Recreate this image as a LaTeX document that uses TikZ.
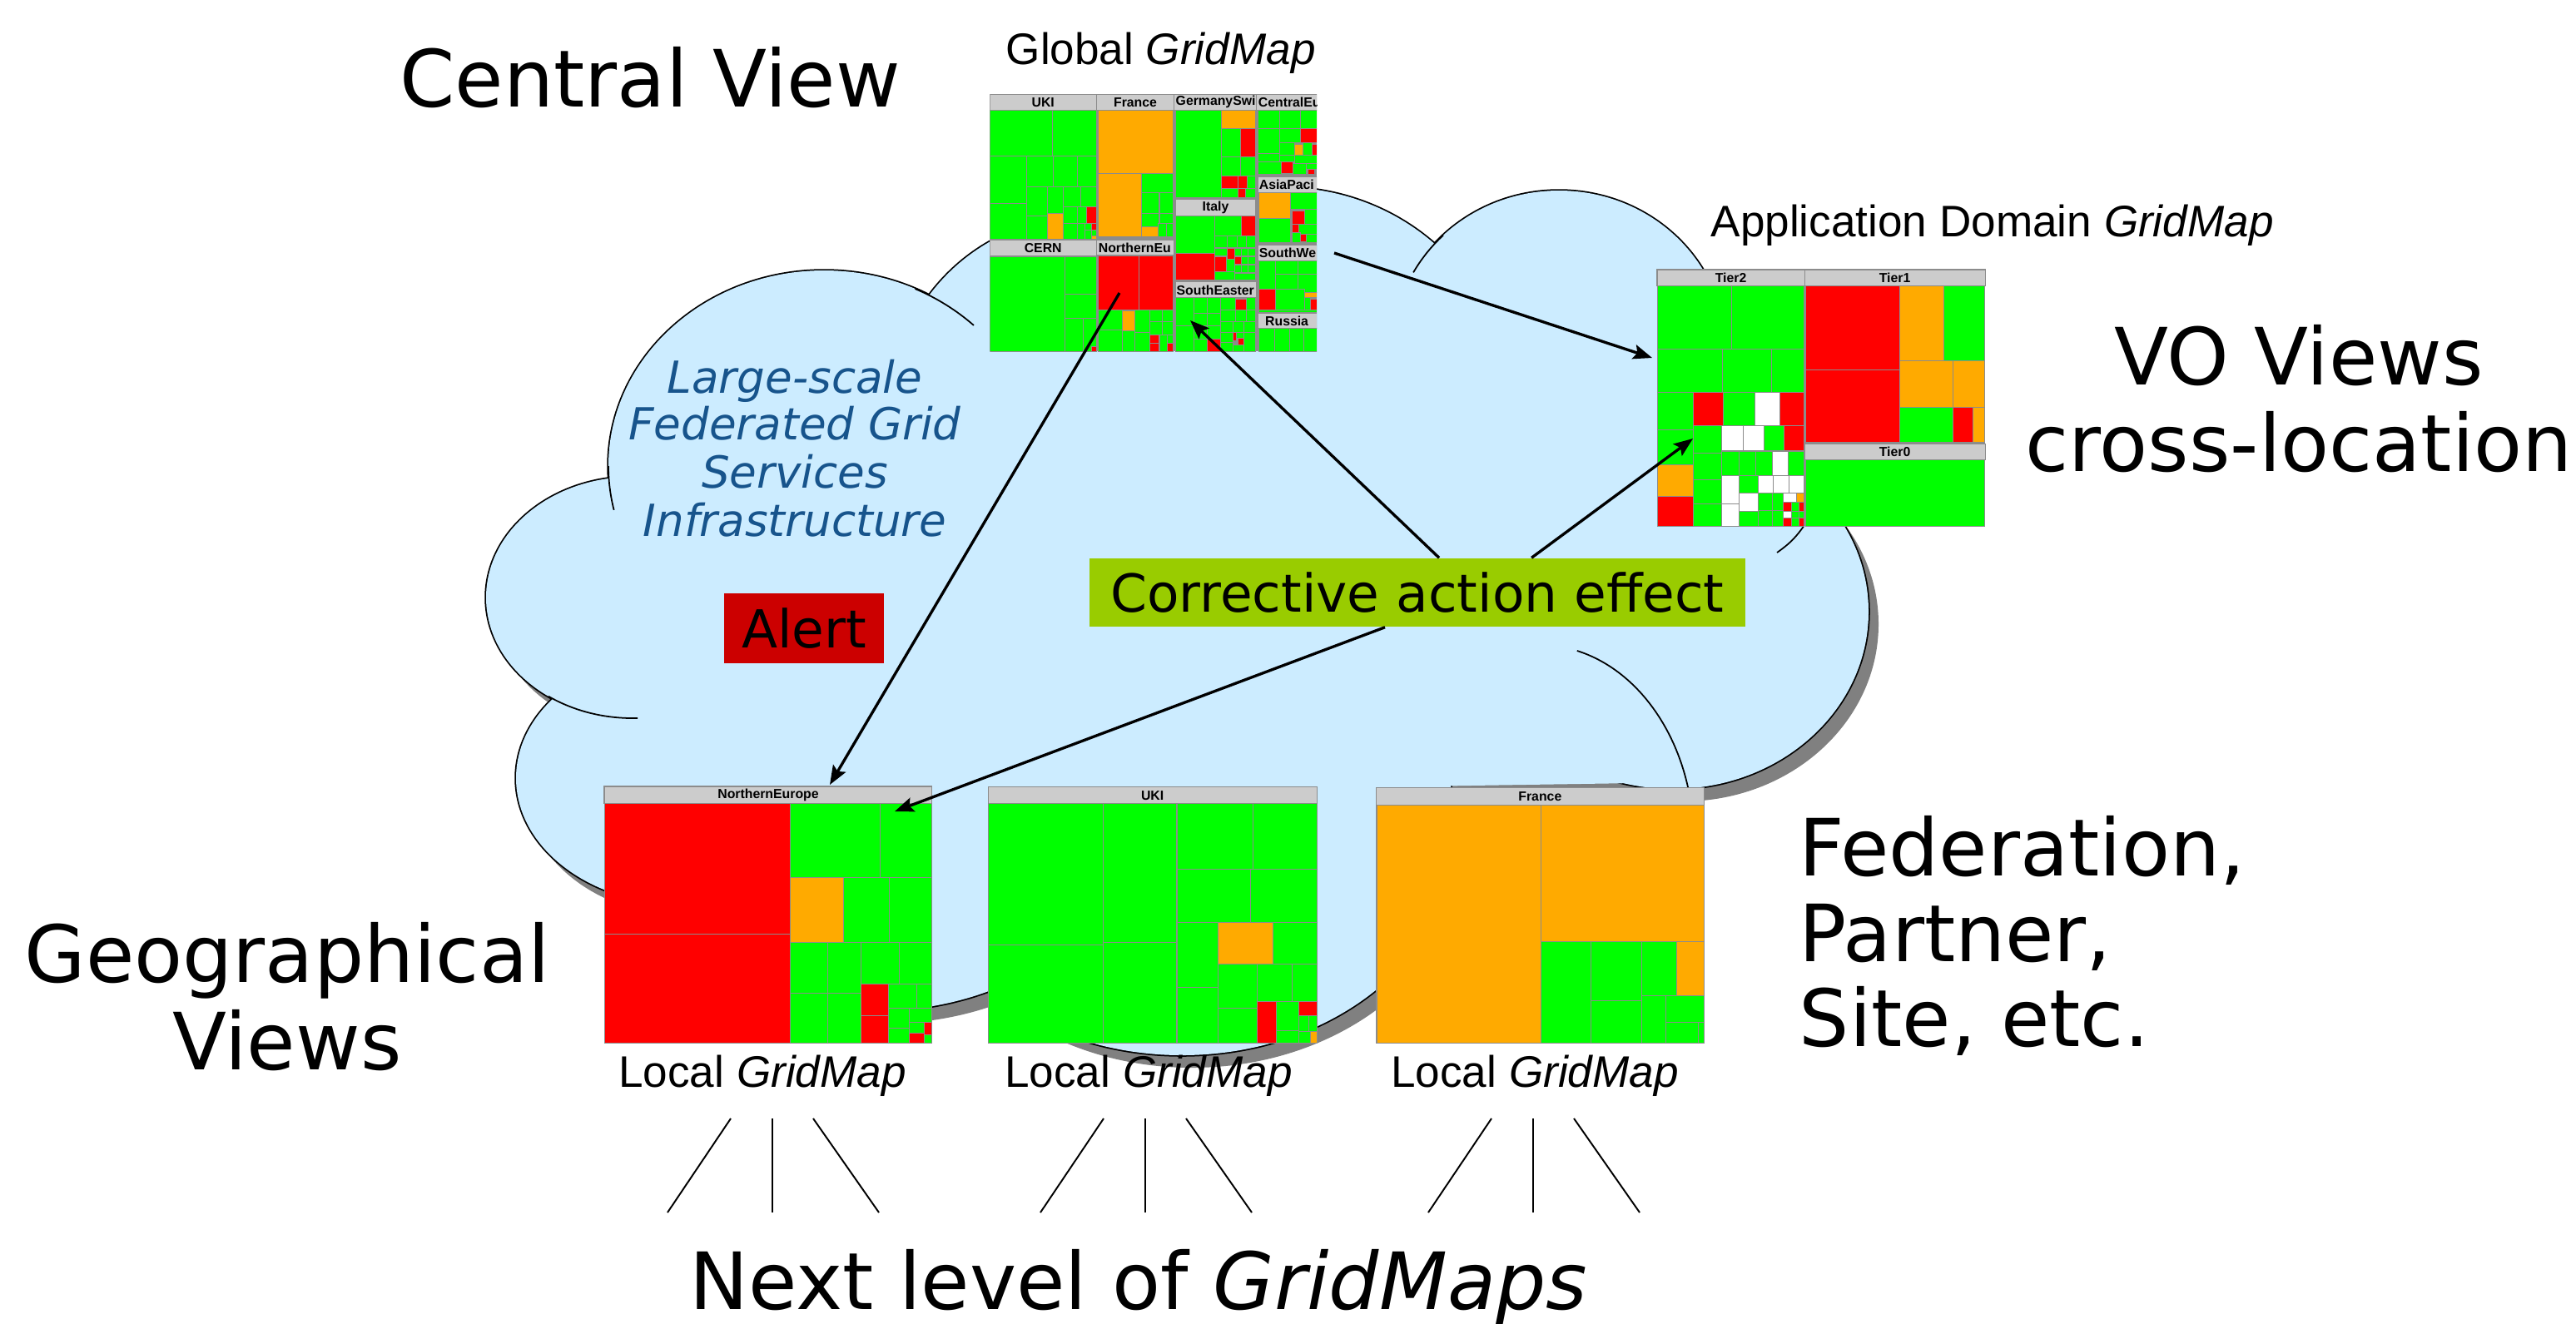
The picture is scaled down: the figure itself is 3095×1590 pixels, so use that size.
\documentclass[tikz,border=0pt]{standalone}
\usepackage{fontspec}
\setmainfont{DejaVu Sans}
\newfontfamily\arialfont{Liberation Sans}
\usetikzlibrary{arrows.meta}
\usetikzlibrary{positioning}
\definecolor{CloudBlue}{HTML}{CCECFF}
\definecolor{CloudShade}{HTML}{808080}
\definecolor{TextBlue}{HTML}{17548C}
\definecolor{AlertRed}{HTML}{CC0000}
\definecolor{EffectGreen}{HTML}{99CC00}
\definecolor{MapHead}{HTML}{CCCCCC}
\definecolor{MapLine}{HTML}{8C8C8C}
\definecolor{mG}{HTML}{00FF00}
\definecolor{mR}{HTML}{FF0000}
\definecolor{mO}{HTML}{FFAA00}
\definecolor{mW}{HTML}{FFFFFF}
\tikzset{
  cell/.style={draw=MapLine, line width=0.3pt},
  mhead/.style={fill=MapHead, draw=MapLine, line width=0.3pt},
  mlabel/.style={font=\arialfont\bfseries\fontsize{4.5}{5}\selectfont, inner sep=0pt},
  link/.style={-{Stealth[length=6.5pt,width=5pt,inset=1.2pt]}, line width=0.95pt},
  hook/.style={line width=0.5pt},
  fan/.style={line width=0.55pt},
  bigtext/.style={font=\fontsize{27}{32}\selectfont, inner sep=0pt},
  captext/.style={font=\arialfont\fontsize{15.1}{18}\selectfont, inner sep=0pt},
  cloudtext/.style={font=\itshape\fontsize{15.1}{16.2}\selectfont, text=TextBlue, inner sep=0pt}
}
% bumps of the cloud: cx/cy/rx/ry
\newcommand\cloudbumps{990/560/259/235, 760/718/176/145, 820/935/200/152,
  1050/1000/300/215, 1420/1000/330/268, 2010/735/235/213,
  1873/420/200/191, 1540/480/270/255, 1305/495/235/235}

\begin{document}
\begin{tikzpicture}[x=0.01cm, y=-0.01cm]
  \useasboundingbox (0,0) rectangle (3095,1590);

  % cloud: shadow, outline, fill
  \begin{scope}[shift={(12,15)}]
    \foreach \cx/\cy/\rx/\ry in \cloudbumps
      \fill[CloudShade] (\cx,\cy) ellipse [x radius=\rx, y radius=\ry];
    \fill[CloudShade] (760,600) -- (1100,400) -- (1550,330) -- (1870,330) -- (2100,520)
      -- (2150,750) -- (2030,940) -- (1700,945) -- (1650,1000) -- (1200,1000) -- (800,950) -- cycle;
  \end{scope}
  \foreach \cx/\cy/\rx/\ry in \cloudbumps
    \draw[line width=1pt] (\cx,\cy) ellipse [x radius=\rx, y radius=\ry];
  \foreach \cx/\cy/\rx/\ry in \cloudbumps
    \fill[CloudBlue] (\cx,\cy) ellipse [x radius=\rx, y radius=\ry];
  \fill[CloudBlue] (760,600) -- (1100,400) -- (1550,330) -- (1870,330) -- (2100,520)
    -- (2150,750) -- (2030,940) -- (1700,945) -- (1650,1000) -- (1200,1000) -- (800,950) -- cycle;

  % inner arcs of the cloud
  \draw[hook] (990,560) ++(167:259 and 235) arc[start angle=167, end angle=180, x radius=259, y radius=235];
  \draw[hook] (990,560) ++(295:259 and 235) arc[start angle=295, end angle=314, x radius=259, y radius=235];
  \draw[hook] (760,718) ++(125:176 and 145) arc[start angle=125, end angle=88, x radius=176, y radius=145];
  \draw[hook] (1873,420) ++(209:200 and 191) arc[start angle=209, end angle=226, x radius=200, y radius=191];
  \draw[hook] (1850,1010) ++(284:185 and 235) arc[start angle=284, end angle=350, x radius=185, y radius=235];
  \draw[hook] (2168,631) to[bend left=10] (2135,664);

  % texts inside the cloud
  \node[cloudtext, anchor=base] (infra1) at (955,472) {Large-scale};
  \node[cloudtext, anchor=base] (infra2) at (955,528) {Federated Grid};
  \node[cloudtext, anchor=base] (infra3) at (955,586) {Services};
  \node[cloudtext, anchor=base] (infra4) at (955,644) {Infrastructure};
  \node[fill=AlertRed, minimum width=1.91cm, minimum height=0.83cm, inner sep=0pt,
    font=\fontsize{17.9}{20}\selectfont] (alert) at (966,755) {Alert};
  \node[fill=EffectGreen, minimum width=7.87cm, minimum height=0.82cm, inner sep=0pt,
    font=\fontsize{17.9}{20}\selectfont] (effect) at (1703,712) {Corrective action effect};

  % global gridmap
  \begin{scope}[shift={(1180,100)}, x=0.0033333cm, y=-0.0033333cm]
    \clip (28,40) rectangle (1208,968);
    \fill[MapLine] (28,40) rectangle (1208,968);
    \foreach \xa/\ya/\xb/\yb/\col in {
      28/97/255/262/mG, 255/97/413/262/mG, 28/262/162/435/mG, 28/435/162/562/mG,
      162/262/258/375/mG, 258/262/343/375/mG, 343/262/413/375/mG, 162/375/235/478/mG,
      162/478/235/562/mG, 235/375/293/470/mG, 235/470/293/562/mO, 293/375/355/447/mG,
      355/375/413/447/mG, 293/447/345/505/mG, 293/505/345/562/mG, 345/447/378/505/mG,
      378/447/413/505/mR, 345/505/370/562/mG, 370/505/395/530/mG, 395/505/413/530/mR,
      370/530/395/562/mG, 395/530/413/550/mG, 395/550/413/562/mO,
      28/625/300/968/mG, 300/625/413/762/mG, 300/762/413/848/mG, 300/848/365/968/mG,
      365/848/413/968/mG, 395/950/413/968/mR,
      418/97/690/325/mO, 418/325/575/555/mO, 575/325/690/395/mG, 575/395/640/470/mG,
      640/395/690/470/mG, 575/470/640/518/mG, 640/470/690/505/mG, 575/518/635/555/mO,
      635/505/665/555/mG, 665/505/690/555/mG,
      418/622/565/818/mR, 565/622/690/818/mR, 418/818/505/890/mG, 505/822/550/895/mO,
      550/818/605/900/mG, 605/818/650/860/mG, 650/818/690/860/mG, 605/860/650/910/mG,
      650/860/690/910/mG, 418/890/505/968/mG, 505/895/550/968/mG, 550/900/605/968/mG,
      605/910/640/940/mR, 605/940/640/968/mR, 640/910/668/968/mG, 668/910/690/940/mG,
      668/940/690/968/mR,
      698/97/865/412/mG, 865/97/988/165/mO, 865/165/932/265/mG, 932/165/988/265/mR,
      865/265/932/335/mG, 932/265/988/335/mG, 865/335/925/380/mR, 925/335/958/380/mR,
      958/335/988/380/mG, 865/380/925/412/mG, 925/380/950/412/mR, 950/380/988/412/mG,
      698/478/840/615/mG, 840/478/935/552/mG, 935/478/988/552/mR, 698/615/840/712/mR,
      840/552/885/595/mG, 885/552/920/595/mG, 920/552/955/595/mG, 955/552/988/595/mG,
      840/595/885/625/mG, 885/595/912/635/mR, 912/595/935/625/mG, 935/595/960/625/mG,
      960/595/988/625/mG, 840/625/882/680/mR, 882/635/912/680/mG, 912/625/935/655/mR,
      935/625/960/655/mG, 960/625/988/655/mG, 912/655/935/685/mG, 935/655/960/685/mG,
      960/655/988/685/mG, 840/680/912/712/mG, 912/685/988/712/mG,
      698/775/765/875/mG, 765/775/812/830/mG, 812/775/862/830/mG, 862/775/915/818/mG,
      915/780/955/818/mR, 955/775/988/818/mG, 765/830/812/875/mG, 812/830/862/875/mG,
      862/818/915/860/mG, 915/818/955/860/mG, 955/818/988/860/mG, 698/875/765/968/mG,
      765/875/812/925/mG, 812/875/862/925/mG, 862/860/905/900/mG, 905/860/945/900/mG,
      945/860/988/900/mG, 862/900/905/935/mG, 905/900/918/930/mR, 918/900/945/920/mG,
      925/920/945/945/mR, 945/900/988/968/mG, 765/925/812/968/mG, 812/925/862/968/mR,
      862/935/905/968/mG, 905/945/945/968/mG,
      995/97/1075/165/mG, 1075/97/1150/165/mG, 1150/97/1208/165/mG, 995/165/1075/255/mG,
      1075/165/1150/215/mG, 1150/165/1208/215/mR, 1075/215/1128/260/mG, 1128/220/1158/260/mO,
      1158/215/1190/260/mG, 1190/220/1208/260/mR, 995/255/1075/285/mG, 1075/260/1128/285/mG,
      1128/260/1208/290/mG, 995/285/1080/328/mG, 1080/285/1122/325/mR, 1122/290/1170/328/mG,
      1170/290/1208/310/mG, 1175/310/1200/328/mR,
      998/395/1112/488/mO, 1112/395/1208/455/mG, 998/488/1112/575/mG, 1118/460/1165/508/mR,
      1165/455/1208/508/mG, 1118/508/1142/540/mR, 1142/508/1208/545/mG, 1118/540/1148/575/mG,
      1148/545/1170/572/mR, 1170/545/1208/575/mG,
      998/642/1060/745/mG, 1060/642/1140/690/mG, 1140/642/1208/690/mG, 1060/690/1140/745/mG,
      1140/690/1208/755/mG, 998/745/1060/818/mR, 1060/745/1165/818/mG, 1165/755/1208/775/mO,
      1165/775/1185/818/mG, 1185/780/1208/818/mR, 998/818/1208/828/mG,
      998/885/1055/968/mG, 1055/885/1110/968/mG, 1110/885/1160/968/mG, 1160/885/1208/968/mG}
      \filldraw[cell, fill=\col] (\xa,\ya) rectangle (\xb,\yb);
    \foreach \xa/\ya/\xb/\yb/\lx/\anc/\lab in {
      28/40/413/97/220/center/UKI, 413/40/693/97/553/center/France,
      693/40/990/97/697/west/GermanySwi, 990/40/1208/97/995/west/CentralEu,
      995/338/1208/395/998/west/AsiaPaci, 698/420/988/478/843/center/Italy,
      28/565/413/625/220/center/CERN, 413/565/693/622/418/west/NorthernEu,
      995/585/1208/642/998/west/SouthWe, 698/718/990/775/700/west/SouthEaster,
      995/830/1208/885/1100/center/Russia}
    {
      \filldraw[mhead] (\xa,\ya) rectangle (\xb,\yb);
      \node[mlabel, anchor=\anc] (g-\lab) at (\lx,{(\ya+\yb)/2}) {\lab};
    }
  \end{scope}

  % application domain gridmap
  \begin{scope}[shift={(1980,310)}, x=0.0033333cm, y=-0.0033333cm]
    \fill[MapLine] (33,40) rectangle (1218,968);
    \foreach \xa/\ya/\xb/\yb/\col in {
      35/100/302/328/mG, 302/100/562/328/mG, 35/328/270/485/mG, 270/328/447/485/mG,
      447/328/562/485/mG, 35/485/163/620/mG, 163/485/272/605/mR, 272/485/385/605/mG,
      385/485/475/605/mW, 475/485/562/605/mR, 35/620/163/748/mG, 35/748/163/860/mO,
      35/860/163/968/mR, 163/605/265/705/mG, 265/605/345/697/mW, 345/605/418/697/mW,
      418/605/490/697/mG, 490/605/562/697/mR, 163/705/265/800/mG, 265/697/330/785/mG,
      330/697/390/785/mG, 390/697/448/785/mG, 448/697/505/785/mW, 505/697/562/785/mG,
      163/800/265/888/mG, 265/785/330/888/mW, 330/785/398/850/mG, 398/785/452/850/mW,
      452/785/508/850/mW, 508/785/562/850/mW, 163/888/265/968/mG, 265/888/330/968/mW,
      330/850/398/915/mW, 330/915/398/968/mG, 398/850/448/912/mG, 448/850/487/912/mG,
      398/912/448/968/mG, 448/912/487/968/mG, 487/850/535/882/mW, 535/850/562/882/mO,
      487/882/518/915/mR, 518/882/545/915/mG, 545/882/562/915/mR, 487/915/518/940/mW,
      518/915/545/940/mG, 545/915/562/940/mG, 487/940/518/968/mR, 518/940/545/968/mG,
      545/940/562/968/mR,
      568/100/908/405/mR, 568/405/908/665/mR, 908/100/1068/372/mO, 1068/100/1215/372/mG,
      908/372/1100/540/mO, 1100/372/1215/540/mO, 908/540/1100/665/mG, 1100/540/1172/665/mR,
      1172/540/1215/665/mO, 568/730/1215/968/mG}
      \filldraw[cell, fill=\col] (\xa,\ya) rectangle (\xb,\yb);
    \foreach \xa/\ya/\xb/\yb/\lx/\lab in {
      33/42/565/100/299/Tier2, 565/42/1218/100/891/Tier1, 565/672/1218/730/891/Tier0}
    {
      \filldraw[mhead] (\xa,\ya) rectangle (\xb,\yb);
      \node[mlabel] (a-\lab) at (\lx,{(\ya+\yb)/2}) {\lab};
    }
  \end{scope}

  % local gridmap NorthernEurope
  \begin{scope}[shift={(715,935)}, x=0.0033333cm, y=-0.0033333cm]
    \fill[MapLine] (33,30) rectangle (1216,958);
    \foreach \xa/\ya/\xb/\yb/\col in {
      35/92/705/562/mR, 35/562/705/958/mR, 705/92/1028/360/mG, 1028/92/1215/360/mG,
      705/360/898/592/mO, 898/360/1062/592/mG, 1062/360/1215/592/mG, 705/592/840/778/mG,
      840/592/960/778/mG, 960/592/1097/745/mG, 1097/592/1215/745/mG, 705/778/840/958/mG,
      840/778/960/958/mG, 960/745/1060/858/mR, 960/858/1060/958/mR, 1060/745/1162/832/mG,
      1162/745/1215/832/mG, 1060/832/1133/902/mG, 1133/832/1215/882/mG, 1060/902/1133/958/mG,
      1133/882/1187/920/mG, 1187/882/1215/928/mR, 1133/920/1187/958/mR, 1187/928/1215/958/mG}
      \filldraw[cell, fill=\col] (\xa,\ya) rectangle (\xb,\yb);
    \filldraw[mhead] (33,30) rectangle (1216,92);
    \node[mlabel] (l-NorthernEurope) at (625,61) {NorthernEurope};
  \end{scope}

  % local gridmap UKI
  \begin{scope}[shift={(1175,935)}, x=0.0033333cm, y=-0.0033333cm]
    \fill[MapLine] (37,32) rectangle (1225,958);
    \foreach \xa/\ya/\xb/\yb/\col in {
      38/92/452/602/mG, 38/602/452/958/mG, 452/92/718/592/mG, 452/592/718/958/mG,
      718/92/992/330/mG, 992/92/1225/330/mG, 718/330/985/522/mG, 985/330/1225/522/mG,
      718/522/867/755/mG, 867/522/1065/672/mO, 1065/522/1225/672/mG, 718/755/867/958/mG,
      867/672/1008/830/mG, 1008/672/1133/808/mG, 1133/672/1225/808/mG, 867/830/1008/958/mG,
      1008/808/1078/958/mR, 1078/808/1158/912/mG, 1158/808/1225/858/mR, 1158/858/1195/915/mG,
      1195/858/1225/915/mG, 1078/912/1158/958/mG, 1158/915/1200/958/mG, 1200/915/1225/958/mO}
      \filldraw[cell, fill=\col] (\xa,\ya) rectangle (\xb,\yb);
    \filldraw[mhead] (37,32) rectangle (1225,92);
    \node[mlabel] (l-UKI) at (630,62) {UKI};
  \end{scope}

  % local gridmap France
  \begin{scope}[shift={(1645,935)}, x=0.0033333cm, y=-0.0033333cm]
    \fill[MapLine] (25,33) rectangle (1210,958);
    \foreach \xa/\ya/\xb/\yb/\col in {
      28/97/620/958/mO, 620/97/1210/590/mO, 620/590/802/958/mG, 802/590/985/805/mG,
      802/805/985/958/mG, 985/590/1110/785/mG, 1110/590/1210/785/mO, 985/785/1072/958/mG,
      1072/785/1210/883/mG, 1072/883/1188/958/mG, 1188/883/1210/958/mG}
      \filldraw[cell, fill=\col] (\xa,\ya) rectangle (\xb,\yb);
    \filldraw[mhead] (25,35) rectangle (1210,97);
    \node[mlabel] (l-France) at (617,66) {France};
  \end{scope}

  % arrows between the views
  \coordinate (gNE) at (1345,352);
  \coordinate (lNEhead) at (997,943);
  \coordinate (gSE) at (1430,385);
  \coordinate (aT2) at (2034,527);
  \coordinate (lNEcell) at (1075,975);
  \coordinate (gEdge) at (1603,304);
  \coordinate (aEdge) at (1985,430);
  \draw[link] (gNE) -- (lNEhead);
  \draw[link] ([xshift=0.26cm]effect.north) -- (gSE);
  \draw[link] ([xshift=1.37cm]effect.north) -- (aT2);
  \draw[link] ([xshift=-0.39cm]effect.south) -- (lNEcell);
  \draw[link] (gEdge) -- (aEdge);

  % labels
  \node[bigtext, anchor=base west] (central) at (480,128) {Central View};
  \node[captext, anchor=base west] (globalcap) at (1208,77) {Global \textit{GridMap}};
  \node[captext, anchor=base west] (appcap) at (2055,284) {Application Domain \textit{GridMap}};
  \node[bigtext, anchor=base] (vo1) at (2762,462) {VO Views};
  \node[bigtext, anchor=base] (vo2) at (2762,566) {cross-location};
  \node[bigtext, anchor=base] (geo1) at (345,1180) {Geographical};
  \node[bigtext, anchor=base] (geo2) at (345,1285) {Views};
  \node[bigtext, anchor=base west] (fed1) at (2161,1052) {Federation,};
  \node[bigtext, anchor=base west] (fed2) at (2161,1155) {Partner,};
  \node[bigtext, anchor=base west] (fed3) at (2161,1257) {Site, etc.};
  \node[captext, anchor=base] (locNE) at (916,1306) {Local \textit{GridMap}};
  \node[captext, anchor=base] (locUK) at (1380,1306) {Local \textit{GridMap}};
  \node[captext, anchor=base] (locFR) at (1844,1306) {Local \textit{GridMap}};
  \node[bigtext, anchor=base] (next) at (1368,1573) {Next level of \textit{GridMaps}};

  % fan of lines to the next level
  \foreach \cx in {928,1376,1842} {
    \draw[fan] (\cx-50,1344) -- ++(-76,113);
    \draw[fan] (\cx,1344) -- ++(0,113);
    \draw[fan] (\cx+49,1344) -- ++(79,113);
  }
\end{tikzpicture}
\end{document}
